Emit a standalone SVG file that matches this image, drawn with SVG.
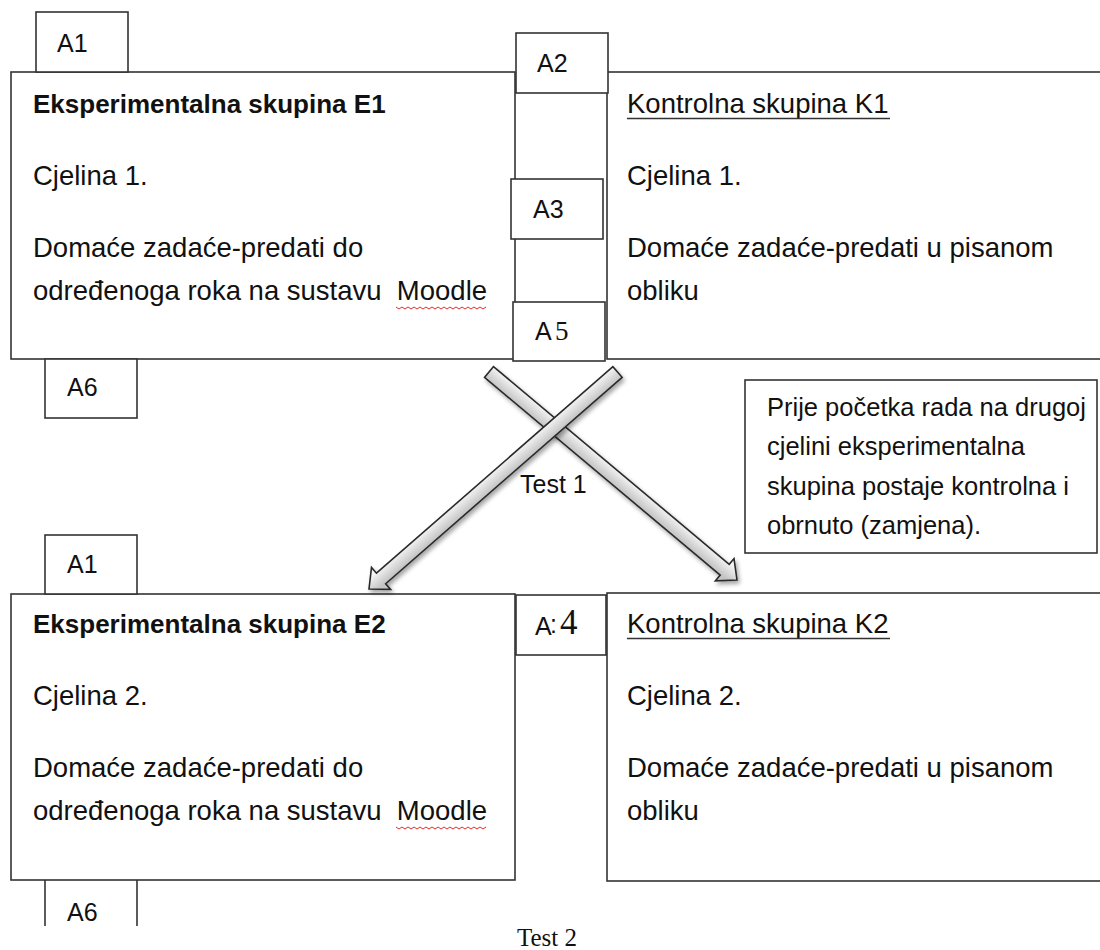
<svg xmlns="http://www.w3.org/2000/svg" width="1100" height="950" viewBox="0 0 1100 950">
<style>
.box{fill:#fff;stroke:#333;stroke-width:1.6}
.ln{stroke:#333;stroke-width:1.6;fill:none}
.t{font-family:"Liberation Sans",Arial,sans-serif;font-size:27.5px;fill:#111}
.b{font-weight:bold;font-size:26px}
.lbl{font-family:"Liberation Sans",Arial,sans-serif;font-size:25px;fill:#111}
.ser{font-family:"Liberation Serif","Times New Roman",serif;fill:#111}
.sm{font-size:25.5px}
.arrow{stroke:#2a2a2a;stroke-width:1.6;stroke-linejoin:miter;filter:url(#sh)}
.sq{stroke:#e03030;stroke-width:1;fill:none}
</style>
<defs>
<filter id="sh" x="-20%" y="-20%" width="140%" height="140%">
<feDropShadow dx="2" dy="3" stdDeviation="2" flood-color="#000" flood-opacity="0.35"/>
</filter>
<linearGradient id="g1" gradientUnits="userSpaceOnUse" x1="493.5" y1="366.6" x2="484.5" y2="377.4">
<stop offset="0" stop-color="#f4f4f4"/><stop offset="0.5" stop-color="#dcdcdc"/><stop offset="1" stop-color="#c4c4c4"/>
</linearGradient>
<linearGradient id="g2" gradientUnits="userSpaceOnUse" x1="612.9" y1="366.7" x2="622.1" y2="377.3">
<stop offset="0" stop-color="#f4f4f4"/><stop offset="0.5" stop-color="#dcdcdc"/><stop offset="1" stop-color="#c4c4c4"/>
</linearGradient>
</defs>

<g id="E1">
<rect class="box" x="11" y="72" width="504" height="287"/>
<text class="t b" x="33" y="113">Eksperimentalna skupina E1</text>
<text class="t" x="33" y="185">Cjelina 1.</text>
<text class="t" x="33" y="257">Domaće zadaće-predati do</text>
<text class="t" x="33" y="300" xml:space="preserve">određenoga roka na sustavu  Moodle</text>
<path class="sq" d="M396 307 l3 2 l3 -2 l3 2 l3 -2 l3 2 l3 -2 l3 2 l3 -2 l3 2 l3 -2 l3 2 l3 -2 l3 2 l3 -2 l3 2 l3 -2 l3 2 l3 -2 l3 2 l3 -2 l3 2 l3 -2 l3 2 l3 -2 l3 2 l3 -2 l3 2 l3 -2 l3 2 l3 -2"/>
</g>

<g id="K1">
<rect class="box" x="607" y="72" width="520" height="287"/>
<text class="t" x="627" y="113">Kontrolna skupina K1</text>
<line class="ln" x1="627" y1="118.5" x2="890" y2="118.5"/>
<text class="t" x="627" y="185">Cjelina 1.</text>
<text class="t" x="627" y="257">Domaće zadaće-predati u pisanom</text>
<text class="t" x="627" y="300">obliku</text>
</g>

<g id="A1a"><rect class="box" x="36" y="12" width="92" height="60"/><text class="lbl" x="57" y="52">A1</text></g>
<g id="A2"><rect class="box" x="516" y="33" width="92" height="60"/><text class="lbl" x="537" y="72">A2</text></g>
<g id="A3"><rect class="box" x="511" y="179" width="92" height="60"/><text class="lbl" x="533" y="218">A3</text></g>
<g id="A5"><rect class="box" x="513" y="302" width="92" height="59"/><text class="lbl" x="535" y="340">A</text><text class="ser" x="555" y="340" font-size="27">5</text></g>
<g id="A6a"><rect class="box" x="45" y="359" width="92" height="59"/><text class="lbl" x="67" y="396">A6</text></g>

<g id="note">
<rect class="box" x="745" y="380" width="352" height="173"/>
<text class="t sm" x="767" y="416">Prije početka rada na drugoj</text>
<text class="t sm" x="767" y="455">cjelini eksperimentalna</text>
<text class="t sm" x="767" y="495">skupina postaje kontrolna i</text>
<text class="t sm" x="767" y="534">obrnuto (zamjena).</text>
</g>

<g id="E2">
<rect class="box" x="11" y="594" width="504" height="286"/>
<text class="t b" x="33" y="633">Eksperimentalna skupina E2</text>
<text class="t" x="33" y="705">Cjelina 2.</text>
<text class="t" x="33" y="777">Domaće zadaće-predati do</text>
<text class="t" x="33" y="820" xml:space="preserve">određenoga roka na sustavu  Moodle</text>
<path class="sq" d="M396 827 l3 2 l3 -2 l3 2 l3 -2 l3 2 l3 -2 l3 2 l3 -2 l3 2 l3 -2 l3 2 l3 -2 l3 2 l3 -2 l3 2 l3 -2 l3 2 l3 -2 l3 2 l3 -2 l3 2 l3 -2 l3 2 l3 -2 l3 2 l3 -2 l3 2 l3 -2 l3 2 l3 -2"/>
</g>

<g id="K2">
<rect class="box" x="607" y="593" width="520" height="288"/>
<text class="t" x="627" y="633">Kontrolna skupina K2</text>
<line class="ln" x1="627" y1="638.5" x2="890" y2="638.5"/>
<text class="t" x="627" y="705">Cjelina 2.</text>
<text class="t" x="627" y="777">Domaće zadaće-predati u pisanom</text>
<text class="t" x="627" y="820">obliku</text>
</g>

<g id="A1b"><rect class="box" x="45" y="535" width="92" height="59"/><text class="lbl" x="67" y="573">A1</text></g>
<g id="A4"><rect class="box" x="516" y="595" width="90" height="60"/><text class="lbl" x="535" y="635">A</text><text class="lbl" x="550" y="633" font-size="12">:</text><text class="ser" x="560" y="634" font-size="35">4</text></g>
<g id="A6b"><line class="ln" x1="45" y1="880" x2="45" y2="926"/><line class="ln" x1="137" y1="880" x2="137" y2="926"/><text class="lbl" x="67" y="921">A6</text></g>

<g id="connectors">
<polygon class="arrow" fill="url(#g1)" points="484.5,377.4 720.2,575.1 715.4,580.8 737,580 734,558.6 729.2,564.3 493.5,366.6"/>
<polygon class="arrow" fill="url(#g2)" points="622.1,377.3 385.65,583.75 390.6,589.4 369,589 371.5,567.5 376.45,573.2 612.9,366.7"/>
<text class="lbl" x="520" y="493">Test 1</text>
<text class="ser" x="517" y="946" font-size="25">Test 2</text>
</g>
</svg>
